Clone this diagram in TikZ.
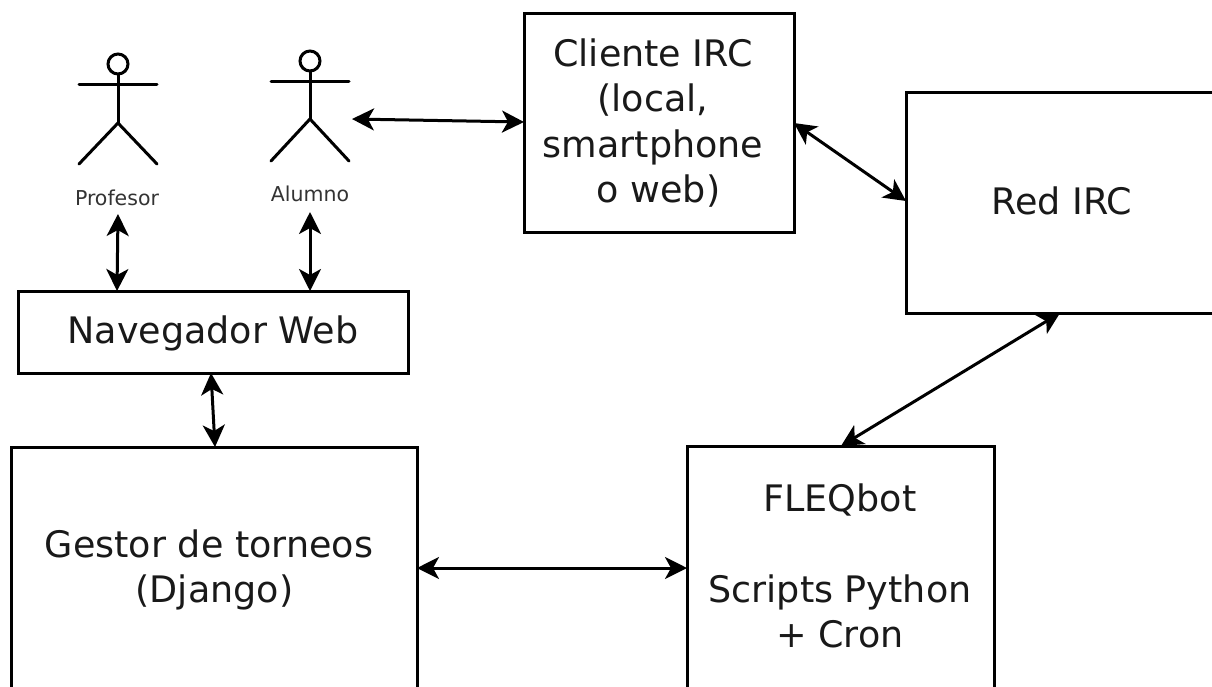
\documentclass[tikz,border=0pt]{standalone}
\usepackage{fontspec}
\setmainfont{DejaVu Sans}
\usetikzlibrary{arrows.meta}
\begin{document}
\begin{tikzpicture}[x=1pt,y=-1pt,
  box/.style={draw=black,line width=3pt,fill=white,inner sep=0pt},
  lbl/.style={font=\fontsize{36.5}{45.5}\selectfont,align=center,inner sep=0pt,text=black!90},
  small/.style={font=\fontsize{20.5}{24}\selectfont,inner sep=0pt,text=black!80},
  arr/.style={line width=3pt,{Stealth[length=22pt,width=22pt,inset=6pt]}-{Stealth[length=22pt,width=22pt,inset=6pt]}},
  fig/.style={line width=3pt,line cap=round}]
\useasboundingbox (0,0) rectangle (1212,686);
\clip (0,0) rectangle (1212,686);
% boxes
\draw[box] (524,13) rectangle (794,232);
\coordinate (cl) at (524,122);
\coordinate (cr) at (794,123);
\draw[box] (906,92) rectangle (1230,313);
\coordinate (rl) at (906,201);
\coordinate (rb) at (1060,313);
\draw[box] (18,291) rectangle (408,373);
\coordinate (nt1) at (117,291);
\coordinate (nt2) at (310,291);
\coordinate (nb) at (211,373);
\draw[box] (11,447) rectangle (417,700);
\coordinate (gt) at (215,447);
\coordinate (gr) at (417,568);
\draw[box] (687,446) rectangle (994,700);
\coordinate (fl) at (687,568);
\coordinate (ft) at (841,446);
% text
\node[lbl] (t1) at (653,123) {Cliente IRC\\(local,\\smartphone\\\hspace*{11pt}o web)};
\node[lbl] (t2) at (1062,201) {Red IRC};
\node[lbl] (t3) at (213,333) {Navegador Web};
\node[lbl] (t4) at (209,570) {Gestor de torneos\\\hspace*{11pt}(Django)};
\node[lbl] (t5) at (840,566) {FLEQbot\\[45.5pt]Scripts Python\\+ Cron};
\node[small] (p) at (117,198) {Profesor};
\node[small] (a) at (310,194) {Alumno};
% figures
\draw[fig] (118,64) circle (10);
\draw[fig] (118,74) -- (118,123) (79,84) -- (157,84);
\draw[fig] (79,164) -- (118,123) -- (157,164);
\draw[fig] (310,61) circle (10);
\draw[fig] (310,71) -- (310,119) (271,81) -- (349,81);
\draw[fig] (271,161) -- (310,119) -- (349,161);
% connectors
\coordinate (af) at (352,119);
\coordinate (pa) at (118,214);
\coordinate (aa) at (310,212);
\draw[arr] (af) -- (cl);
\draw[arr] (cr) -- (rl);
\draw[arr] (pa) -- (nt1);
\draw[arr] (aa) -- (nt2);
\draw[arr] (nb) -- (gt);
\draw[arr] (gr) -- (fl);
\draw[arr] (rb) -- (ft);
\end{tikzpicture}
\end{document}
